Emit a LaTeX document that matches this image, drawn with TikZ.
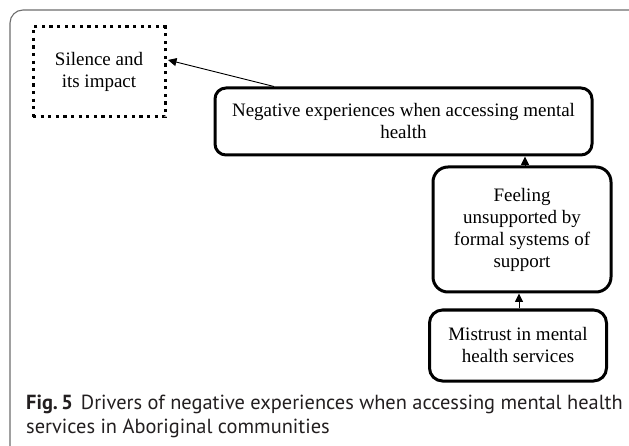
\documentclass[tikz,border=0pt]{standalone}
\usepackage{fontspec}
\setmainfont{Liberation Serif}
\newfontfamily\capfont{PT Sans}
\usetikzlibrary{arrows.meta,calc}
\definecolor{framegray}{RGB}{110,110,110}
\definecolor{captext}{RGB}{35,31,32}
\begin{document}
\begin{tikzpicture}[x=1pt,y=-1pt,
  boxfont/.style={font=\fontsize{19}{22}\selectfont, align=center, inner sep=0pt},
  solidbox/.style={boxfont, draw, line width=3pt, rounded corners=11pt},
  dotbox/.style={boxfont, draw, line width=3pt, dash pattern=on 3.2pt off 4.4pt},
  arr/.style={-{Triangle[length=8.5pt,width=8pt]}, line width=0.9pt},
  captionstyle/.style={font=\capfont\fontsize{20.4}{24}\selectfont, text=captext, anchor=base west, inner sep=0pt}]
\clip (0,0) rectangle (629,446);
\fill[white] (0,0) rectangle (629,446);
\draw[framegray, line width=1.1pt, rounded corners=13pt] (10,460) -- (10,10) -- (650,10);

\node[dotbox, minimum width=132pt, minimum height=90pt] (sil) at (99,72) {Silence and\\its impact};
\node[solidbox, minimum width=377pt, minimum height=67pt] (neg) at (403.5,121.5) {Negative experiences when accessing mental\\health};
\node[solidbox, rounded corners=15pt, minimum width=178pt, minimum height=125pt] (feel) at (522,229.5) {Feeling\\unsupported by\\formal systems of\\support};
\node[solidbox, rounded corners=13pt, minimum width=177pt, minimum height=71pt] (mis) at (518,345.5) {Mistrust in mental\\health services};

\draw[arr] ([xshift=3pt]feel.north) -- ([xshift=3pt]feel.north |- neg.south);
\draw[arr] ([xshift=1pt]mis.north) -- ([xshift=1pt]mis.north |- feel.south);
\draw[arr] ([xshift=-129.5pt]neg.north) -- ([xshift=1.5pt,yshift=12pt]sil.east);

\node[captionstyle] (cap1) at (26,409) {\textbf{Fig.\,5}\hspace{8pt}Drivers of negative experiences when accessing mental health};
\node[captionstyle] (cap2) at (26,433) {services in Aboriginal communities};
\end{tikzpicture}
\end{document}
